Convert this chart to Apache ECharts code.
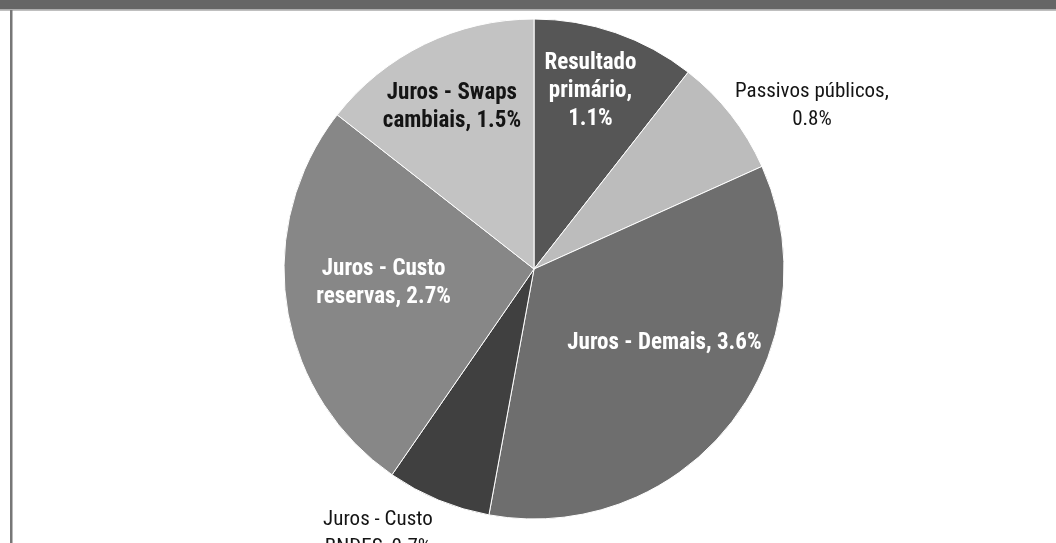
<!DOCTYPE html>
<html>
<head>
<meta charset="utf-8">
<style>
html,body{margin:0;padding:0;background:#fff;}
#chart{width:1056px;height:543px;}
</style>
<script src="https://cdn.jsdelivr.net/npm/echarts@6/dist/echarts.min.js"></script>
</head>
<body>
<div id="chart"></div>
<script>
// ---- data ----
const categories = ['Resultado primário', 'Passivos públicos', 'Juros - Demais', 'Juros - Custo BNDES', 'Juros - Custo reservas', 'Juros - Swaps cambiais'];
const values = [1.1, 0.8, 3.6, 0.7, 2.7, 1.5];
const labelPrefixes = ['Resultado\nprimário,\n', 'Passivos públicos,\n', 'Juros - Demais, ', 'Juros - Custo\nBNDES, ', 'Juros - Custo\nreservas, ', 'Juros - Swaps\ncambiais, '];

// ---- style / layout ----
const colors = ['#565656', '#bcbcbc', '#6e6e6e', '#404040', '#878787', '#c3c3c3'];
const labelStyles = ['in', 'out', 'in', 'out', 'in', 'inDark'];
// [radius fraction, angle shift in degrees] for each label
const labelPlace = [[0.745, -1.4], [1.29, 7.6], [0.60, -8.5], [1.23, 8.0], [0.604, 3.4], [0.724, -1.0]];
const CX = 534, CY = 269, R = 250;
const FONT = "'Roboto Condensed', 'Open Sans Condensed', 'DejaVu Sans Condensed', sans-serif";

const total = values.reduce((a, b) => a + b, 0);
const midAngles = [];
let acc = 0;
values.forEach(v => { midAngles.push((acc + v / 2) / total * 360); acc += v; });

const chart = echarts.init(document.getElementById('chart'), null, {renderer: 'canvas'});

const data = categories.map((name, i) => {
  const st = labelStyles[i];
  return {
    name: name,
    value: values[i],
    itemStyle: {color: colors[i]},
    label: {
      color: st === 'in' ? '#ffffff' : '#141414',
      fontWeight: st === 'out' ? 'normal' : 'bold',
      fontSize: st === 'out' ? 21 : 23
    }
  };
});

chart.setOption({
  animation: false,
  backgroundColor: '#ffffff',
  graphic: [
    {type: 'rect', shape: {x: 0, y: 0, width: 1056, height: 9.5}, style: {fill: '#666666'}, silent: true},
    {type: 'rect', shape: {x: 0, y: 9.5, width: 1056, height: 1.2}, style: {fill: '#aaaaaa'}, silent: true},
    {type: 'rect', shape: {x: 10, y: 10, width: 2.5, height: 533}, style: {fill: '#777777'}, silent: true}
  ],
  series: [{
    type: 'pie',
    center: [CX, CY],
    radius: [0, R],
    startAngle: 90,
    clockwise: true,
    avoidLabelOverlap: false,
    itemStyle: {borderColor: '#ffffff', borderWidth: 1},
    label: {
      show: true,
      position: 'inside',
      fontFamily: FONT,
      lineHeight: 28,
      align: 'center',
      formatter: p => labelPrefixes[p.dataIndex] + p.value.toFixed(1) + '%'
    },
    labelLine: {show: false},
    labelLayout: function (params) {
      const i = params.dataIndex;
      const a = (midAngles[i] + labelPlace[i][1]) * Math.PI / 180;
      const r = R * labelPlace[i][0];
      return {
        x: CX + r * Math.sin(a),
        y: CY - r * Math.cos(a),
        align: 'center',
        verticalAlign: 'middle'
      };
    },
    emphasis: {disabled: true},
    data: data
  }]
});
</script>
</body>
</html>
